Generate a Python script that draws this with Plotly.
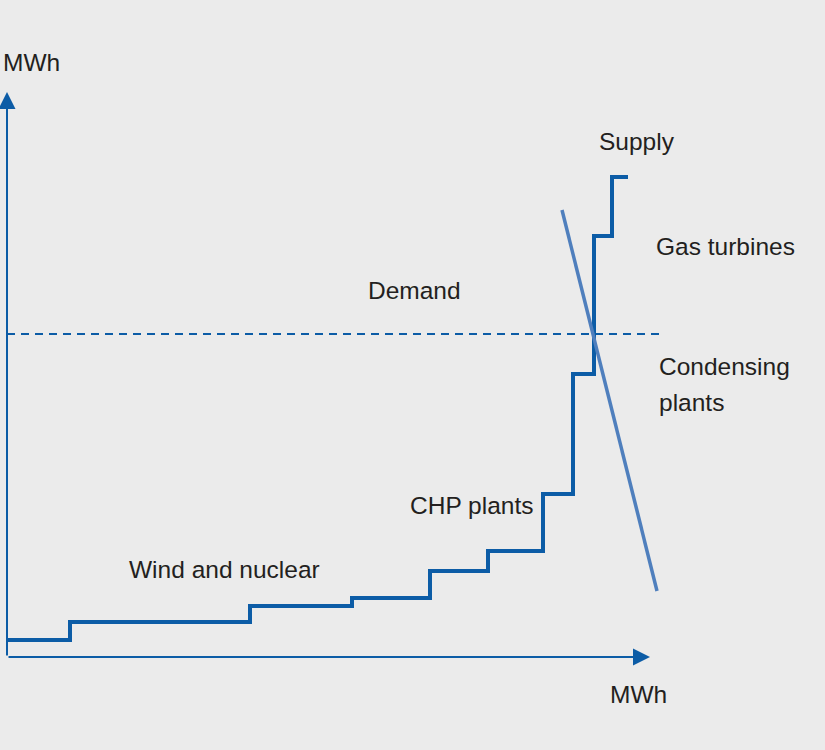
import plotly.graph_objects as go

# Supply step curve (quantity, price) in arbitrary units
supply_x = [0, 63, 243, 345, 423, 481, 536, 566, 587, 605, 621]
supply_y = [17, 35, 51, 59, 86, 106, 163, 283, 421, 480]

# Demand line
demand_x = [555, 650]
demand_y = [447, 66]

# Demand level (dashed)
demand_level = 323
demand_level_x = [0, 658]

axis_x_end = 643
axis_y_end = 565

labels = [
    ("Supply", 630, 516, "center"),
    ("Gas turbines", 647, 411, "left"),
    ("Demand", 407, 367, "center"),
    ("Condensing", 650, 291, "left"),
    ("plants", 650, 255, "left"),
    ("CHP plants", 464, 152, "center"),
    ("Wind and nuclear", 217, 88, "center"),
    ("MWh", 631, -37, "center"),
    ("MWh", -6, 595, "left"),
]

DARK = "#0c5ca6"
LIGHT = "#4f7fbd"
TEXT = "#231f20"
BG = "#ebebeb"

# Build step path
sx, sy = [], []
for i, yv in enumerate(supply_y):
    sx += [supply_x[i], supply_x[i + 1]]
    sy += [yv, yv]

fig = go.Figure()
fig.add_trace(go.Scatter(x=demand_level_x, y=[demand_level] * 2, mode="lines",
                         line=dict(color=DARK, width=2, dash="8px,6px"), hoverinfo="skip"))
fig.add_trace(go.Scatter(x=sx, y=sy, mode="lines", line=dict(color=DARK, width=4, shape="linear"),
                         hoverinfo="skip"))
fig.add_trace(go.Scatter(x=demand_x, y=demand_y, mode="lines", line=dict(color=LIGHT, width=3.5),
                         hoverinfo="skip"))

# Axes arrows
fig.add_annotation(x=axis_x_end, y=0, ax=0, ay=0, xref="x", yref="y", axref="x", ayref="y",
                   showarrow=True, arrowhead=2, arrowsize=1.7, arrowwidth=2, arrowcolor=DARK, text="")
fig.add_annotation(x=0, y=axis_y_end, ax=0, ay=0, xref="x", yref="y", axref="x", ayref="y",
                   showarrow=True, arrowhead=2, arrowsize=1.7, arrowwidth=2, arrowcolor=DARK, text="")

for t, x, y, anc in labels:
    fig.add_annotation(x=x, y=y, text=t, showarrow=False, xanchor=anc, yanchor="middle",
                       font=dict(family="Liberation Sans, Arial", size=24.5, color=TEXT))

fig.update_layout(
    width=825, height=750,
    margin=dict(l=0, r=0, t=0, b=0),
    paper_bgcolor=BG, plot_bgcolor=BG,
    showlegend=False,
    xaxis=dict(range=[-7, 818], visible=False, fixedrange=True),
    yaxis=dict(range=[-93, 657], visible=False, fixedrange=True),
)

fig.write_html("out.html", config={"displayModeBar": False},
               post_script="document.body.style.margin='0';document.body.style.background='%s';" % BG)
